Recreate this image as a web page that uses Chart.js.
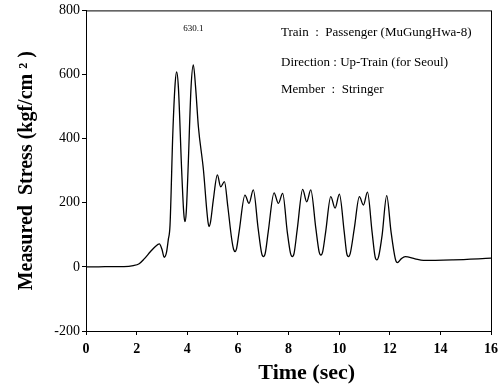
<!DOCTYPE html>
<html>
<head>
<meta charset="utf-8">
<script src="https://cdn.jsdelivr.net/npm/chart.js@4"></script>
<style>
  html, body { margin: 0; padding: 0; background: #ffffff; }
  canvas { display: block; }
</style>
</head>
<body>
<canvas id="c" width="504" height="385"></canvas>
<script>
// ---- data ----
const time = [0, 0.5, 1.0, 1.5, 1.87, 2.1, 2.3, 2.55, 2.73, 2.9, 3.0, 3.09, 3.18, 3.25, 3.32, 3.43, 3.52, 3.58, 3.65, 3.78, 3.86, 3.91, 3.96, 4.03, 4.15, 4.24, 4.33, 4.44, 4.64, 4.77, 4.82, 4.86, 4.92, 5.03, 5.19, 5.32, 5.47, 5.6, 5.75, 5.83, 5.89, 5.95, 6.05, 6.28, 6.44, 6.61, 6.8, 6.94, 7.01, 7.08, 7.2, 7.43, 7.6, 7.77, 7.95, 8.08, 8.15, 8.22, 8.35, 8.56, 8.72, 8.88, 9.08, 9.21, 9.28, 9.35, 9.47, 9.67, 9.84, 10.01, 10.2, 10.3, 10.37, 10.44, 10.6, 10.8, 10.96, 11.12, 11.3, 11.42, 11.49, 11.56, 11.7, 11.88, 12.05, 12.22, 12.3, 12.45, 12.61, 13.0, 13.33, 14.5, 16];
const stress = [0, 0, 1, 1, 4, 10, 25, 48, 63, 72, 55, 30, 45, 84, 131, 417, 570, 608, 560, 300, 170, 141, 170, 300, 560, 630.1, 560, 437, 302, 178, 140, 126, 140, 209, 287, 250, 266, 190, 90, 55, 48, 58, 110, 224, 198, 240, 120, 42, 32, 42, 110, 231, 198, 229, 110, 42, 32, 42, 120, 242, 203, 240, 120, 47, 37, 47, 110, 219, 183, 227, 110, 42, 32, 42, 120, 219, 193, 233, 110, 32, 22, 32, 100, 222, 110, 25, 13, 25, 32, 25, 20, 22, 27];
const xTicks = [0, 2, 4, 6, 8, 10, 12, 14, 16];
const yTicks = [-200, 0, 200, 400, 600, 800];
const infoLines = ["Train  :  Passenger (MuGungHwa-8)", "Direction : Up-Train (for Seoul)", "Member  :  Stringer"];
const peakLabel = "630.1";
const xTitle = "Time (sec)";
const yTitle = "Measured  Stress (kgf/cm \u00B2 )";

const points = time.map((t, i) => ({ x: t, y: stress[i] }));
const peakIndex = stress.indexOf(Math.max(...stress));

const serif = "'Liberation Serif', 'Times New Roman', serif";

const framePlugin = {
  id: 'frame',
  afterDatasetsDraw(chart) {
    const { ctx, chartArea: a, scales } = chart;
    ctx.save();
    ctx.strokeStyle = '#000';
    ctx.lineWidth = 1;
    ctx.strokeRect(a.left + 0.5, a.top + 0.5, a.right - a.left, a.bottom - a.top);
    ctx.fillStyle = '#000';
    // info text block
    ctx.font = "13px " + serif;
    ctx.textAlign = 'left';
    ctx.textBaseline = 'alphabetic';
    const lx = a.left + (a.right - a.left) * 0.4815;
    const baselines = [36, 66, 93];
    infoLines.forEach((s, i) => ctx.fillText(s, lx, baselines[i]));
    // peak label
    const px = scales.x.getPixelForValue(time[peakIndex]);
    const py = scales.y.getPixelForValue(stress[peakIndex]);
    ctx.font = "9px " + serif;
    ctx.textAlign = 'center';
    ctx.fillText(peakLabel, px, py - 34);
    // x-axis title (offset to the right of centre as in the reference)
    ctx.font = "bold 22px " + serif;
    ctx.textAlign = 'center';
    ctx.textBaseline = 'middle';
    ctx.fillText(xTitle, a.left + (a.right - a.left) * 0.545, 373);
    ctx.restore();
  }
};

new Chart(document.getElementById('c'), {
  type: 'line',
  data: {
    datasets: [{
      data: points,
      borderColor: '#000',
      borderWidth: 1.3,
      pointRadius: 0,
      fill: false,
      cubicInterpolationMode: 'monotone'
    }]
  },
  options: {
    responsive: false,
    animation: false,
    events: [],
    layout: { padding: { top: 10, right: 13, bottom: 0, left: 0 } },
    plugins: { legend: { display: false }, tooltip: { enabled: false } },
    scales: {
      x: {
        type: 'linear',
        min: 0, max: 16,
        afterFit(s) { s.height = 54; },
        afterBuildTicks(s) { s.ticks = xTicks.map(v => ({ value: v })); },
        ticks: { color: '#000', padding: 6, font: { family: serif, size: 14, weight: 'bold' }, maxRotation: 0 },
        grid: { drawOnChartArea: false, color: '#000', tickLength: 4, tickWidth: 1 },
        border: { color: '#000', width: 1 },
        title: { display: false }
      },
      y: {
        type: 'linear',
        min: -200, max: 800,
        afterFit(s) { s.width = 86; },
        afterBuildTicks(s) { s.ticks = yTicks.map(v => ({ value: v })); },
        ticks: { color: '#000', padding: 2, font: { family: serif, size: 14 } },
        grid: { drawOnChartArea: false, color: '#000', tickLength: 4, tickWidth: 1 },
        border: { color: '#000', width: 1 },
        title: { display: true, text: yTitle, color: '#000', font: { family: serif, size: 20, weight: 'bold' }, padding: { top: 15, bottom: 0 } }
      }
    }
  },
  plugins: [framePlugin]
});
</script>
</body>
</html>
